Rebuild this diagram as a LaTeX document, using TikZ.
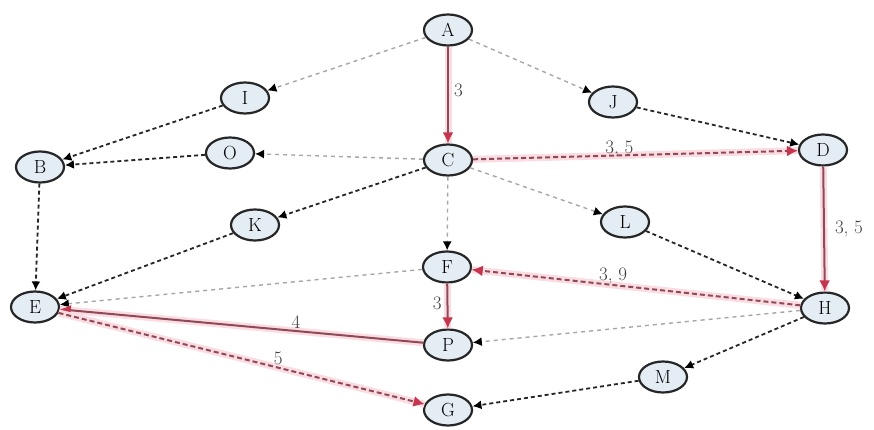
\documentclass[tikz,border=0pt]{standalone}
\usepackage{fontspec}
\usetikzlibrary{shapes.geometric,arrows.meta}
\definecolor{nodefill}{HTML}{E4ECF4}
\definecolor{pathred}{HTML}{C4364E}
\definecolor{pathline}{HTML}{8E4A56}
\definecolor{halo}{HTML}{FADCE2}
\tikzset{
  vtx/.style={ellipse, draw=black!85, line width=2.2pt, fill=nodefill,
    minimum width=48pt, minimum height=31pt, inner sep=0pt,
    font=\fontsize{19}{21}\selectfont},
  darktip/.style={-{Latex[length=9pt,width=9pt,color=black]}},
  faint/.style={darktip, draw=black!35, line width=1.4pt, dash pattern=on 4pt off 4pt},
  strong/.style={darktip, draw=black!85, line width=1.8pt, dash pattern=on 4pt off 3pt},
  hot/.style={-{Latex[length=11pt,width=11pt,color=pathred]},
    preaction={draw=halo, line width=7pt, -}, draw=pathline, line width=2pt},
  hotdash/.style={hot, dash pattern=on 5pt off 3pt},
  wt/.style={font=\fontsize{19}{21}\selectfont, text=black!75, inner sep=1pt}
}
\begin{document}
\begin{tikzpicture}[x=1pt,y=-1pt]
  \useasboundingbox (0,0) rectangle (874,430);

  % vertices
  \node[vtx] (A) at (448,30)  {A};
  \node[vtx] (I) at (245,98)  {I};
  \node[vtx] (J) at (613,102) {J};
  \node[vtx] (O) at (230,153) {O};
  \node[vtx] (C) at (448,160) {C};
  \node[vtx] (D) at (823,150) {D};
  \node[vtx] (B) at (40,167)  {B};
  \node[vtx] (K) at (255,225) {K};
  \node[vtx] (L) at (625,222) {L};
  \node[vtx] (F) at (447,267) {F};
  \node[vtx] (E) at (35,307)  {E};
  \node[vtx] (H) at (825,308) {H};
  \node[vtx] (P) at (448,345) {P};
  \node[vtx] (M) at (663,377) {M};
  \node[vtx] (G) at (448,410) {G};

  % explored but unused edges
  \draw[faint] (A) -- (I);
  \draw[faint] (A) -- (J);
  \draw[faint] (C) -- (O);
  \draw[faint] (C) -- (F);
  \draw[faint] (C) -- (L);
  \draw[faint] (F) -- (E);
  \draw[faint] (H) -- (P);

  % other edges
  \draw[strong] (I) -- (B);
  \draw[strong] (O) -- (B);
  \draw[strong] (J) -- (D);
  \draw[strong] (C) -- (K);
  \draw[strong] (K) -- (E);
  \draw[strong] (B) -- (E);
  \draw[strong] (L) -- (H);
  \draw[strong] (H) -- (M);
  \draw[strong] (M) -- (G);

  % highlighted path
  \draw[hot] (A) -- node[wt, right=4pt, pos=0.45] {3} (C);
  \draw[hotdash] (C) -- node[wt, above=-4pt, pos=0.45] {3, 5} (D);
  \draw[hot] (D) -- node[wt, right=9pt, pos=0.5] {3, 5} (H);
  \draw[hotdash] (H) -- node[wt, above=-1pt, pos=0.57] {3, 9} (F);
  \draw[hot] (F) -- node[wt, left=4pt, pos=0.45] {3} (P);
  \draw[hot] (P) -- node[wt, above=1pt, pos=0.35] {4} (E);
  \draw[hotdash] (E) -- node[wt, above=1pt, pos=0.6] {5} (G);
\end{tikzpicture}
\end{document}
